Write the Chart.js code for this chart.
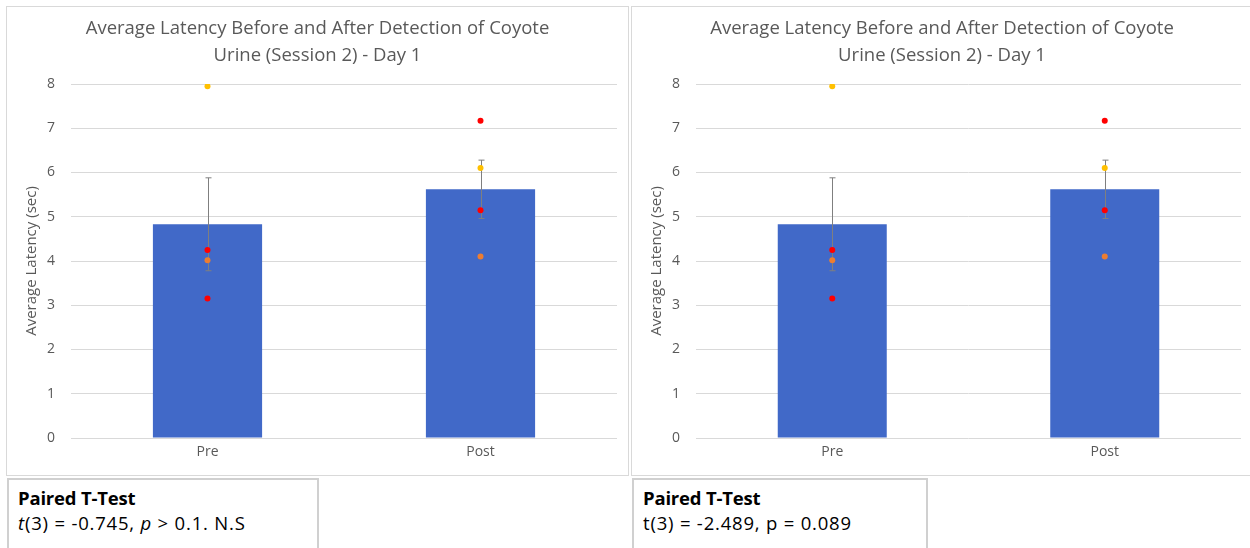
<!DOCTYPE html>
<html>
<head>
<meta charset="utf-8">
<script src="https://cdn.jsdelivr.net/npm/chart.js@4.4.0/dist/chart.umd.min.js"></script>
<style>
    body {
        margin: 0;
        background: #ffffff;
        width: 1250px;
        height: 548px;
        overflow: hidden;
        position: relative;
        font-family: 'Open Sans', sans-serif;
    }
    .chart-box {
        position: absolute;
        top: 6px;
        width: 623px;
        height: 470px;
        box-sizing: border-box;
        border: 1px solid #d9d9d9;
        background: #ffffff;
    }
    .stats-box {
        position: absolute;
        top: 478px;
        height: 80px;
        box-sizing: border-box;
        border: 2px solid #d0d0d0;
        border-bottom: none;
        padding: 5px 0 0 9px;
        color: #000000;
        font-size: 18.5px;
        line-height: 25px;
        letter-spacing: -0.2px;
    }
    .stats-box b {
        font-weight: 700;
    }
    .stats-box span {
        letter-spacing: 0.8px;
    }
</style>
</head>
<body>
<div class="chart-box" style="left: 6px;"><canvas id="chartLeft"></canvas></div>
<div class="chart-box" style="left: 631px; width: 622px;"><canvas id="chartRight"></canvas></div>

<div class="stats-box" style="left: 7px; width: 312px;">
    <b>Paired T-Test</b><br>
    <span><i>t</i>(3) = -0.745, <i>p</i> &gt; 0.1. N.S</span>
</div>
<div class="stats-box" style="left: 632px; width: 296px;">
    <b>Paired T-Test</b><br>
    <span>t(3) = -2.489, p = 0.089</span>
</div>

<script>
// values
const categories = ['Pre', 'Post'];
const meanLatency = [4.83, 5.62];
const errorLatency = [1.05, 0.66];

// individual animals (pre, post)
const animalYellow = [7.95, 6.1];
const animalRed1 = [4.25, 7.17];
const animalOrange = [4.02, 4.1];
const animalRed2 = [3.15, 5.15];

const titleLines = ['Average Latency Before and After Detection of Coyote', 'Urine (Session 2) - Day 1'];
const yAxisLabel = 'Average Latency (sec)';

const textColor = '#595959';
const gridColor = '#d9d9d9';

// error bars drawn right after the bar dataset so the dots sit on top
const errorBarPlugin = {
    id: 'errorBars',
    afterDatasetDraw(chart, args) {
        if (args.index !== 0) return;
        const ctx = chart.ctx;
        const yScale = chart.scales.y;
        const meta = chart.getDatasetMeta(0);
        ctx.save();
        ctx.strokeStyle = '#7f7f7f';
        ctx.lineWidth = 1;
        meta.data.forEach((bar, i) => {
            const x = Math.round(bar.x) + 0.5;
            const top = yScale.getPixelForValue(meanLatency[i] + errorLatency[i]);
            const bottom = yScale.getPixelForValue(meanLatency[i] - errorLatency[i]);
            ctx.beginPath();
            ctx.moveTo(x, top);
            ctx.lineTo(x, bottom);
            ctx.moveTo(x - 3, top);
            ctx.lineTo(x + 3, top);
            ctx.moveTo(x - 3, bottom);
            ctx.lineTo(x + 3, bottom);
            ctx.stroke();
        });
        ctx.restore();
    },
};

function dotDataset(values, color) {
    return {
        type: 'line',
        data: values,
        showLine: false,
        pointRadius: 3,
        pointBackgroundColor: color,
        pointBorderColor: color,
        pointBorderWidth: 0,
        order: 0,
    };
}

function makeChart(canvasId) {
    const ctx = document.getElementById(canvasId).getContext('2d');
    return new Chart(ctx, {
        type: 'bar',
        data: {
            labels: categories,
            datasets: [
                {
                    data: meanLatency,
                    backgroundColor: '#4169c8',
                    borderWidth: 0,
                    barPercentage: 0.4,
                    categoryPercentage: 1,
                    order: 1,
                },
                dotDataset(animalYellow, '#ffc000'),
                dotDataset(animalRed1, '#ff0000'),
                dotDataset(animalOrange, '#ed7d31'),
                dotDataset(animalRed2, '#ff0000'),
            ],
        },
        options: {
            responsive: true,
            maintainAspectRatio: false,
            animation: false,
            layout: {
                padding: { top: 0, right: 11, bottom: 0, left: 11 },
            },
            plugins: {
                legend: { display: false },
                tooltip: { enabled: false },
                title: {
                    display: true,
                    text: titleLines,
                    color: textColor,
                    font: { family: 'Open Sans', size: 18.5, weight: 'normal', lineHeight: 1.46 },
                    padding: { top: 8.5, bottom: 14.5 },
                },
            },
            scales: {
                x: {
                    grid: { display: false, drawTicks: false },
                    border: { display: false },
                    ticks: {
                        color: textColor,
                        font: { family: 'Open Sans', size: 14 },
                        padding: 6,
                    },
                    afterFit(scale) {
                        scale.height = 37;
                    },
                },
                y: {
                    min: 0,
                    max: 8,
                    grid: { color: gridColor, drawTicks: false },
                    border: { display: false },
                    ticks: {
                        stepSize: 1,
                        color: textColor,
                        font: { family: 'Open Sans', size: 14 },
                        padding: 16,
                    },
                    title: {
                        display: true,
                        text: yAxisLabel,
                        color: textColor,
                        font: { family: 'Open Sans', size: 15 },
                        padding: { top: 5, bottom: 0 },
                    },
                    afterFit(scale) {
                        scale.width = 53;
                    },
                },
            },
        },
        plugins: [errorBarPlugin],
    });
}

makeChart('chartLeft');
makeChart('chartRight');
</script>
</body>
</html>
